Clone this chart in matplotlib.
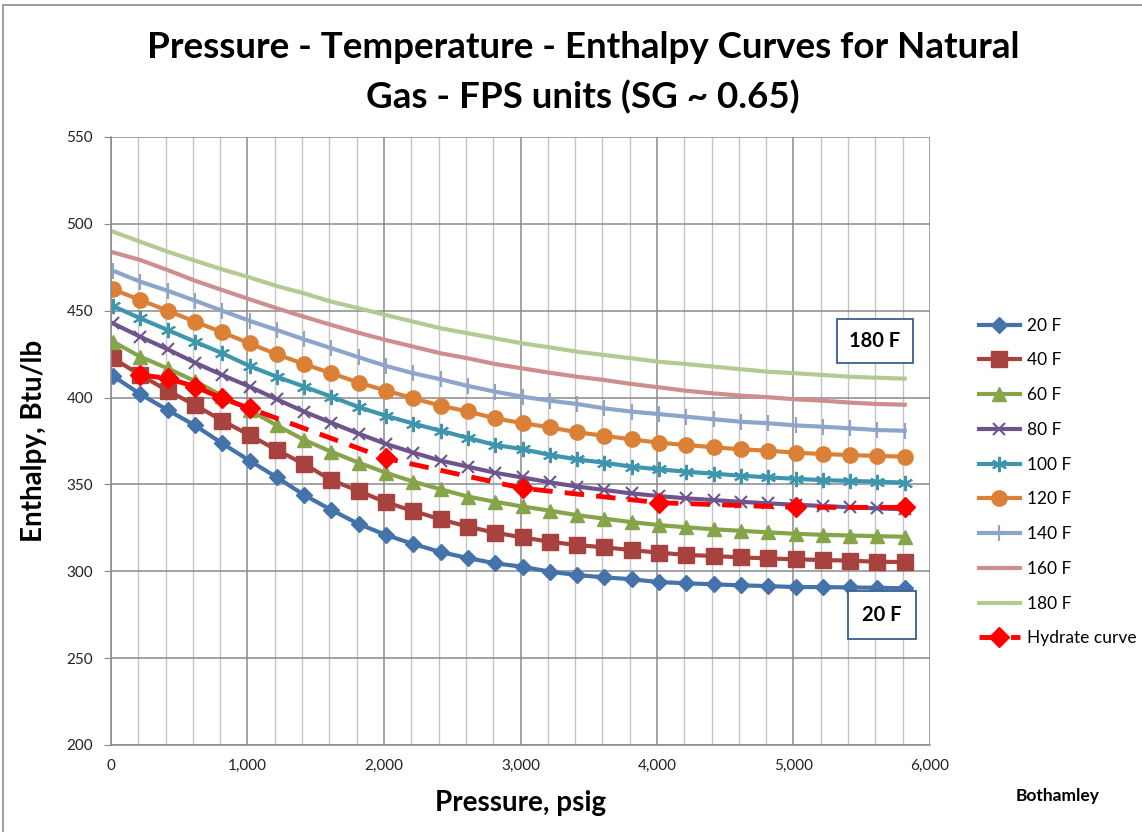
import matplotlib
matplotlib.use("Agg")
import matplotlib.pyplot as plt
from matplotlib.patches import Rectangle
from matplotlib.ticker import MultipleLocator, FuncFormatter

plt.rcParams['font.family'] = ['Lato', 'DejaVu Sans']

pressure = [14.7 + 200 * i for i in range(30)]

t20 = [412.4, 402.0, 392.8, 384.0, 373.6, 363.7, 354.1, 343.9, 335.3, 327.2,
       320.9, 315.7, 311.1, 307.6, 304.6, 302.6, 299.8, 297.8, 296.5, 295.4,
       293.8, 293.1, 292.5, 291.9, 291.5, 290.9, 290.9, 290.7, 290.5, 290.2]
t40 = [422.6, 413.0, 404.0, 395.7, 386.7, 378.4, 369.8, 361.7, 352.5, 346.2,
       339.7, 334.7, 329.9, 325.7, 322.2, 319.5, 317.0, 315.1, 313.8, 312.2,
       310.7, 309.4, 308.8, 308.0, 307.4, 306.9, 306.5, 306.1, 305.5, 305.3]
t60 = [432.2, 423.5, 416.8, 409.5, 401.0, 392.8, 384.0, 375.6, 368.8, 362.5,
       356.7, 351.6, 347.2, 343.0, 340.0, 337.3, 334.9, 332.3, 330.3, 328.3,
       326.6, 325.3, 324.2, 323.3, 322.4, 321.6, 321.0, 320.6, 320.2, 319.9]
t80 = [442.7, 435.0, 427.8, 420.1, 413.0, 406.3, 399.0, 391.9, 385.5, 379.2,
       373.3, 368.3, 363.7, 360.2, 356.7, 354.0, 351.2, 348.8, 346.8, 344.8,
       343.3, 342.0, 341.0, 340.0, 339.1, 338.3, 337.6, 336.8, 336.2, 335.7]
t100 = [452.7, 445.6, 438.9, 432.2, 425.5, 418.2, 412.0, 406.3, 400.5, 394.5,
        389.5, 385.0, 380.9, 376.8, 372.7, 370.3, 367.0, 364.4, 362.5, 360.2,
        358.7, 357.3, 356.2, 355.0, 354.1, 353.2, 352.5, 352.0, 351.6, 351.0]
t120 = [462.3, 456.2, 450.0, 443.7, 437.6, 431.2, 424.9, 419.3, 414.0, 408.6,
        404.0, 399.6, 395.3, 392.0, 388.0, 385.3, 382.9, 380.0, 378.0, 375.9,
        374.0, 372.7, 371.4, 370.2, 369.4, 368.3, 367.5, 366.9, 366.4, 366.0]
t140 = [473.0, 466.7, 461.5, 455.8, 450.0, 444.2, 438.9, 433.5, 428.4, 423.2,
        418.2, 414.0, 410.5, 406.7, 403.4, 400.5, 398.2, 396.3, 393.8, 391.9,
        390.5, 389.0, 387.5, 386.1, 385.2, 384.0, 383.2, 382.3, 381.3, 380.9]
t160 = [483.6, 479.2, 473.4, 467.3, 461.9, 456.6, 451.4, 446.5, 441.8, 437.3,
        433.1, 429.3, 425.5, 422.6, 419.3, 416.8, 414.3, 412.0, 410.1, 407.8,
        405.9, 403.9, 402.4, 401.1, 400.2, 399.0, 398.2, 397.1, 396.3, 395.9]
t180 = [495.5, 489.7, 484.0, 478.8, 473.8, 469.2, 464.2, 460.0, 455.2, 451.4,
        447.5, 443.7, 439.9, 437.0, 434.1, 431.2, 428.9, 426.4, 424.5, 422.6,
        420.6, 419.3, 417.8, 416.3, 414.9, 414.0, 413.0, 412.0, 411.4, 410.9]

hyd_p = [214.7, 414.7, 614.7, 814.7, 1014.7, 2014.7, 3014.7, 4014.7, 5014.7, 5814.7]
hyd_h = [413.0, 411.1, 406.3, 399.6, 393.8, 365.0, 347.8, 339.5, 336.8, 336.8]

labels = ['20 F', '40 F', '60 F', '80 F', '100 F', '120 F', '140 F', '160 F', '180 F']
series = [t20, t40, t60, t80, t100, t120, t140, t160, t180]
colors = ['#4472AA', '#A8423F', '#86A44A', '#6E548D', '#3D96AE',
          '#DA8137', '#8EA5CB', '#CE8E8D', '#B3CB92']
markers = ['D', 's', '^', 'x', (6, 2, 0), 'o', '|', None, None]
msizes = [8, 11, 10, 9, 11, 11, 11, 0, 0]

fig = plt.figure(figsize=(11.42, 8.32), dpi=100)
fig.patches.append(Rectangle((3 / 1142, -0.1), 1.2, 1 - 5 / 832 + 0.1,
                             transform=fig.transFigure, fill=False,
                             edgecolor='#8C8C8C', linewidth=1.2))

ax = fig.add_axes([111 / 1142, 1 - 745 / 832, (930 - 111) / 1142, (745 - 137) / 832])
ax.set_xlim(0, 6000)
ax.set_ylim(200, 550)
ax.xaxis.set_major_locator(MultipleLocator(1000))
ax.xaxis.set_minor_locator(MultipleLocator(200))
ax.yaxis.set_major_locator(MultipleLocator(50))
ax.grid(which='major', color='#8A8A8A', linewidth=1.1)
ax.grid(which='minor', axis='x', color='#C4C4C4', linewidth=1.0)
ax.set_axisbelow(True)
for s in ['top', 'right']:
    ax.spines[s].set_visible(False)
for s in ['left', 'bottom']:
    ax.spines[s].set_color('#8A8A8A')
    ax.spines[s].set_linewidth(1.1)
ax.xaxis.set_major_formatter(FuncFormatter(lambda v, p: f'{int(v):,}'))
ax.tick_params(axis='x', which='both', length=0, pad=10, labelsize=11, labelcolor='#222222')
ax.tick_params(axis='y', which='major', length=5, color='#8A8A8A', pad=8, labelsize=11, labelcolor='#222222')

for lab, ys, c, m, ms in zip(labels, series, colors, markers, msizes):
    kw = dict(color=c, linewidth=3, label=lab)
    if m is not None:
        kw.update(marker=m, markersize=ms, markeredgecolor=c, markerfacecolor=c,
                  markeredgewidth=1.5 if m in ('x', '|', (6, 2, 0)) else 1)
    ax.plot(pressure, ys, **kw)

ax.plot(hyd_p, hyd_h, color='#FF0000', linewidth=3.5, linestyle=(0, (4, 2.5)),
        marker='D', markersize=10, markerfacecolor='#FF0000', markeredgecolor='#FF0000',
        label='Hydrate curve')

leg = ax.legend(loc='upper left', bbox_to_anchor=(963 / 1142, 1 - 302 / 832),
                bbox_transform=fig.transFigure, frameon=False, fontsize=12.5,
                handlelength=2.4, labelspacing=1.08, handletextpad=0.4)

ax.set_xlabel('Pressure, psig', fontsize=20, fontweight='bold', labelpad=12)
ax.set_ylabel('Enthalpy, Btu/lb', fontsize=20, fontweight='bold', labelpad=14)

fig.text(583 / 1142, 1 - 47 / 832, 'Pressure - Temperature - Enthalpy Curves for Natural',
         ha='center', va='center', fontsize=26.5, fontweight='bold')
fig.text(583 / 1142, 1 - 97 / 832, 'Gas - FPS units (SG ~ 0.65)',
         ha='center', va='center', fontsize=26.5, fontweight='bold')

fig.text(1058 / 1142, 1 - 796 / 832, 'Bothamley', ha='center', va='center',
         fontsize=12.5, fontweight='bold')

fig.text(875 / 1142, 1 - 341 / 832, '180 F', ha='center', va='center', fontsize=14.5,
         fontweight='bold', bbox=dict(boxstyle='square,pad=0.6', facecolor='white',
                                      edgecolor='#3A5F8E', linewidth=1.3))
fig.text(882 / 1142, 1 - 615 / 832, '20 F', ha='center', va='center', fontsize=14.5,
         fontweight='bold', bbox=dict(boxstyle='square,pad=0.7', facecolor='white',
                                      edgecolor='#3A5F8E', linewidth=1.3))

fig.savefig('out.png', dpi=100)
